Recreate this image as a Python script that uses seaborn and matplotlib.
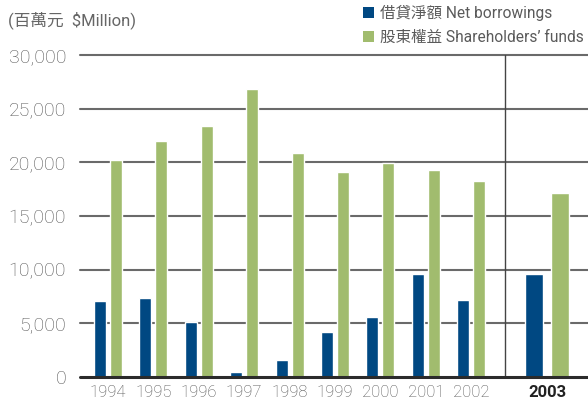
import matplotlib
matplotlib.use("Agg")
import matplotlib.pyplot as plt
import seaborn as sns
import pandas as pd
from matplotlib.patches import Patch

# ---- data ----
years = ["1994", "1995", "1996", "1997", "1998", "1999", "2000", "2001", "2002", "2003"]
net_borrowings = [7120, 7400, 5150, 470, 1600, 4220, 5620, 9560, 7220, 9560]
shareholders_funds = [20200, 22000, 23400, 26850, 20900, 19100, 19950, 19280, 18250, 17120]
series_labels = ["借貸淨額 Net borrowings", "股東權益 Shareholders’ funds"]
positions = [0, 1, 2, 3, 4, 5, 6, 7, 8, 9.67]
yticks = [0, 5000, 10000, 15000, 20000, 25000, 30000]
title = "(百萬元  $Million)"

colors = ["#004882", "#a1bc6e"]

sns.set_theme(style="white")
plt.rcParams["font.family"] = ["Roboto", "Noto Sans CJK TC", "DejaVu Sans"]

rows = []
for p, y, a, b in zip(positions, years, net_borrowings, shareholders_funds):
    rows.append({"pos": p, "year": y, "series": series_labels[0], "value": a})
    rows.append({"pos": p, "year": y, "series": series_labels[1], "value": b})
df = pd.DataFrame(rows)
df_main = df[df["year"] != "2003"]
df_last = df[df["year"] == "2003"]

fig = plt.figure(figsize=(5.88, 4.07), dpi=100)
ax = fig.add_axes([80 / 588, 1 - 377 / 407, 1 - 80 / 588, (377 - 55) / 407])

# gridlines behind bars
for t in yticks[1:]:
    ax.axhline(t, color="#6a6a6a", lw=1.5, zorder=0, clip_on=False)

sns.barplot(data=df_main, x="pos", y="value", hue="series", hue_order=series_labels,
            palette=colors, native_scale=True, width=0.705, gap=0.25,
            saturation=1, legend=False, ax=ax, zorder=2)
sns.barplot(data=df_last, x="pos", y="value", hue="series", hue_order=series_labels,
            palette=colors, native_scale=True, width=1.145, gap=0.31,
            saturation=1, legend=False, ax=ax, zorder=2)

ax.axhline(0, color="#2b2b2b", lw=2.2, zorder=3, clip_on=False)
ax.axvline(8.75, color="#444444", lw=1.0, zorder=1)

ax.set_xlim(-0.617, 10.57)
ax.set_ylim(0, 30000)
for s in ax.spines.values():
    s.set_visible(False)

ax.set_yticks(yticks)
ax.set_yticklabels([f"{v:,}" for v in yticks], fontsize=14, color="#555555",
                   fontweight="light")
ax.set_xticks(positions)
ax.set_xticklabels(years, fontsize=12, color="#555555", fontweight="light")
ax.tick_params(axis="both", length=0)
ax.tick_params(axis="y", pad=10)
ax.tick_params(axis="x", pad=6)
lbl = ax.get_xticklabels()[-1]
lbl.set_fontweight("bold")
lbl.set_color("#222222")
ax.set_xlabel("")
ax.set_ylabel("")

fig.text(8 / 588, 1 - 20 / 407, title, fontsize=12, color="#666666",
         va="center", ha="left")

handles = [Patch(facecolor=c, edgecolor="none") for c in colors]
fig.legend(handles, series_labels, loc="upper left",
           bbox_to_anchor=(358 / 588, 1 - 0 / 407), frameon=False,
           fontsize=11.2, labelcolor="#5a5a5a", handlelength=0.7,
           handleheight=0.7, handletextpad=0.4, labelspacing=0.6,
           borderaxespad=0, borderpad=0.3)

fig.savefig("out.png", dpi=100)
